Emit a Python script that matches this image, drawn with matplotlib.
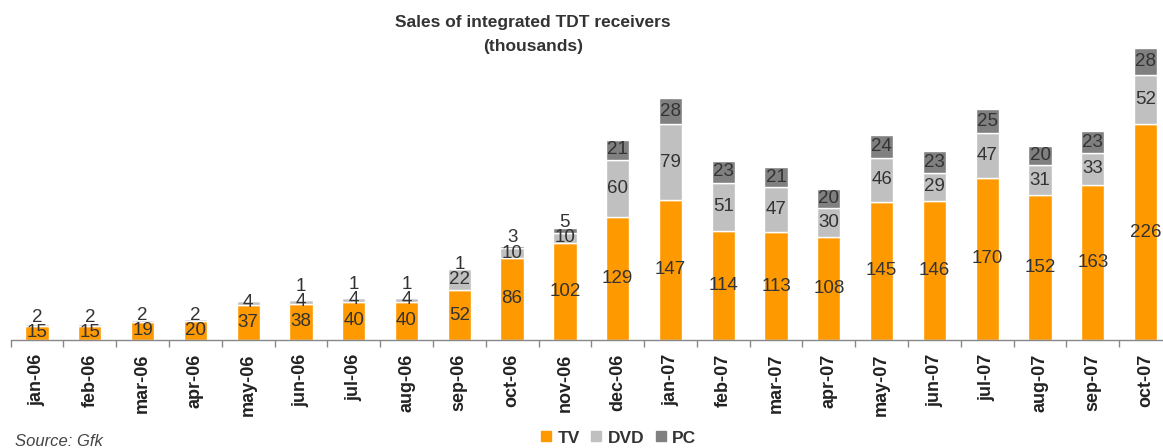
import matplotlib
matplotlib.use("Agg")
import matplotlib.pyplot as plt
import numpy as np
from matplotlib.lines import Line2D

categories = ["jan-06", "feb-06", "mar-06", "apr-06", "may-06", "jun-06", "jul-06",
              "aug-06", "sep-06", "oct-06", "nov-06", "dec-06", "jan-07", "feb-07",
              "mar-07", "apr-07", "may-07", "jun-07", "jul-07", "aug-07", "sep-07", "oct-07"]
tv = [15, 15, 19, 20, 37, 38, 40, 40, 52, 86, 102, 129, 147, 114, 113, 108, 145, 146, 170, 152, 163, 226]
dvd = [2, 2, 2, 2, 4, 4, 4, 4, 22, 10, 10, 60, 79, 51, 47, 30, 46, 29, 47, 31, 33, 52]
pc = [0, 0, 0, 0, 0, 1, 1, 1, 1, 3, 5, 21, 28, 23, 21, 20, 24, 23, 25, 20, 23, 28]
series_names = ["TV", "DVD", "PC"]
colors = ["#FF9900", "#C0C0C0", "#808080"]

plt.rcParams['font.family'] = ['Liberation Sans', 'DejaVu Sans']

W, H = 1163, 448
fig = plt.figure(figsize=(W / 100, H / 100), dpi=100)
ax = fig.add_axes([10.6 / W, 108 / H, 1161.4 / W, 295.7 / H])

x = np.arange(len(categories))
series = [tv, dvd, pc]
bottom = np.zeros(len(categories))
width = 0.44
for vals, col in zip(series, colors):
    v = np.array(vals, dtype=float)
    ax.bar(x, v, width, bottom=bottom, color=col, edgecolor="white", linewidth=1.0, zorder=2)
    bottom += v

# data labels: at segment centre, pushed upward if overlapping previous label
gap = 16.0
for i in range(len(categories)):
    base = 0.0
    prev = None
    for vals in series:
        v = vals[i]
        if v <= 0:
            base += v
            continue
        y = base + v / 2.0
        if prev is not None and y < prev + gap:
            y = prev + gap
        ax.text(x[i], y, str(v), ha="center", va="center", fontsize=13.5,
                color="#333333", zorder=3)
        prev = y
        base += v

ax.set_xlim(-0.5, len(categories) - 0.5)
ax.set_ylim(0, 310)
for s in ["top", "right", "left"]:
    ax.spines[s].set_visible(False)
ax.spines["bottom"].set_color("#888888")
ax.spines["bottom"].set_linewidth(1.0)
ax.set_yticks([])
ax.set_xticks(x)
ax.set_xticklabels(categories, rotation=90, fontsize=13, fontweight="bold", color="#222222")
ax.tick_params(axis="x", which="major", length=0, pad=10)
ax.set_xticks(np.arange(-0.5, len(categories), 1.0), minor=True)
ax.tick_params(axis="x", which="minor", length=5, width=1, color="#888888", direction="out")

fig.text(533 / W, 1 - 22 / H, "Sales of integrated TDT receivers", ha="center", va="center",
         fontsize=12.5, fontweight="bold", color="#333333")
fig.text(533 / W, 1 - 47 / H, "(thousands)", ha="center", va="center",
         fontsize=12.5, fontweight="bold", color="#333333")

handles = [Line2D([0], [0], marker="s", linestyle="none", markersize=7,
                  markerfacecolor=c, markeredgecolor=c) for c in colors]
leg = fig.legend(handles, series_names, loc="center", bbox_to_anchor=(618 / W, 1 - 438 / H),
                 ncol=3, frameon=False, handlelength=0.7, handletextpad=0.3, columnspacing=0.6,
                 prop={"weight": "bold", "size": 12.5})
for t in leg.get_texts():
    t.set_color("#333333")

fig.text(15 / W, 1 - 441 / H, "Source: Gfk", ha="left", va="center", fontsize=12,
         style="italic", color="#444444")

fig.savefig("out.png", dpi=100)
